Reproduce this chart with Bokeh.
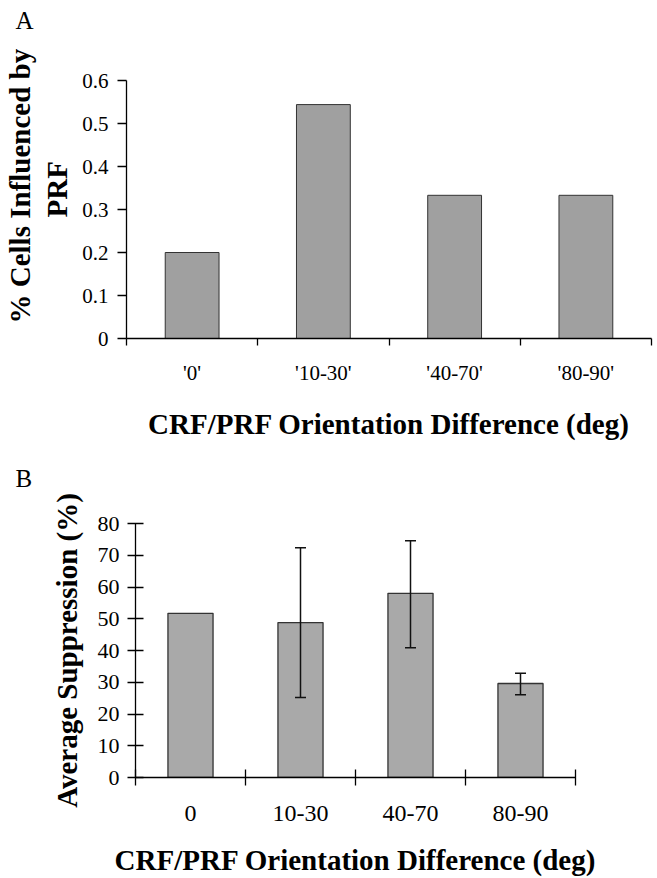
from bokeh.plotting import figure
from bokeh.models import Range1d, FixedTicker, Whisker, ColumnDataSource, TeeHead, Title, Spacer
from bokeh.layouts import column, row
from bokeh.embed import file_html
from bokeh.resources import INLINE

# ---------------- data ----------------
a_categories = ["'0'", "'10-30'", "'40-70'", "'80-90'"]
a_values = [0.20, 0.544, 0.333, 0.333]
a_yticks = [0, 0.1, 0.2, 0.3, 0.4, 0.5, 0.6]
a_ytick_labels = ["0", "0.1", "0.2", "0.3", "0.4", "0.5", "0.6"]

b_categories = ["0", "10-30", "40-70", "80-90"]
b_values = [51.7, 48.8, 58.0, 29.6]
b_err_lower = [51.7, 25.2, 40.9, 26.1]
b_err_upper = [51.7, 72.4, 74.6, 32.8]
b_yticks = [0, 10, 20, 30, 40, 50, 60, 70, 80]
b_ytick_labels = ["0", "10", "20", "30", "40", "50", "60", "70", "80"]

x_title = "CRF/PRF Orientation Difference (deg)"
a_ytitle = ["% Cells Influenced by", "PRF"]
b_ytitle = "Average Suppression (%)"
panel_letters = ["A", "B"]

FONT = "Liberation Serif"
TITLE_SIZE = "29px"


def style_axes(p, yticks, ylabels, ylab_size, xlab_size, y_in, y_out, x_in, x_out, ystand, xstand):
    p.grid.visible = False
    p.outline_line_color = None
    p.background_fill_color = "white"
    p.border_fill_color = "white"
    p.xaxis.ticker = FixedTicker(ticks=[0, 1, 2, 3], minor_ticks=[-0.5, 0.5, 1.5, 2.5, 3.5])
    p.xaxis.major_tick_in = 0
    p.xaxis.major_tick_out = 0
    p.xaxis.minor_tick_in = x_in
    p.xaxis.minor_tick_out = x_out
    p.xaxis.minor_tick_line_color = "black"
    p.xaxis.minor_tick_line_width = 1.3
    p.yaxis.ticker = FixedTicker(ticks=yticks, minor_ticks=[])
    p.yaxis.major_label_overrides = {t: l for t, l in zip(yticks, ylabels)}
    p.yaxis.major_tick_in = y_in
    p.yaxis.major_tick_out = y_out
    p.yaxis.major_tick_line_width = 1.3
    p.yaxis.major_label_standoff = ystand
    p.xaxis.major_label_standoff = xstand
    for ax in (p.xaxis, p.yaxis):
        ax.axis_line_color = "black"
        ax.axis_line_width = 1.3
        ax.major_tick_line_color = "black"
        ax.major_label_text_font = FONT
        ax.major_label_text_color = "black"
        ax.axis_label_text_font = FONT
        ax.axis_label_text_font_style = "bold"
        ax.axis_label_text_font_size = TITLE_SIZE
        ax.axis_label_text_color = "black"
    p.yaxis.major_label_text_font_size = ylab_size
    p.xaxis.major_label_text_font_size = xlab_size


def side_title(text, **kw):
    return Title(text=text, text_font=FONT, text_color="black", **kw)


# ---------------- panel A ----------------
p1 = figure(frame_width=525, frame_height=258,
            min_border_left=126, min_border_right=2, min_border_top=80, min_border_bottom=104,
            x_range=Range1d(-0.5, 3.5), y_range=Range1d(0, 0.6),
            output_backend="svg", toolbar_location=None)
xa = list(range(len(a_categories)))
p1.vbar(x=xa, top=a_values, width=0.41, bottom=0, fill_color="#a0a0a0", line_color="#333333", line_width=1)

style_axes(p1, a_yticks, a_ytick_labels, "21px", "21px", 0, 9, 0, 7, 9, 15)
p1.xaxis.major_label_overrides = {i: c for i, c in enumerate(a_categories)}
p1.xaxis.axis_label = x_title
p1.xaxis.axis_label_standoff = 20

# two-line y title as side titles (nearest the axis first)
p1.add_layout(side_title(a_ytitle[1], align="left", offset=121, vertical_align="top", standoff=10,
                         text_font_size=TITLE_SIZE, text_font_style="bold"), "left")
p1.add_layout(side_title(a_ytitle[0], align="left", offset=15, vertical_align="bottom", standoff=0,
                         text_font_size=TITLE_SIZE, text_font_style="bold"), "left")
# spacer (blank) then panel letter above the frame
p1.add_layout(side_title(" ", align="left", offset=0, vertical_align="bottom", standoff=29,
                         text_font_size="10px"), "above")
p1.add_layout(side_title(panel_letters[0], align="left", offset=-111, vertical_align="top", standoff=6,
                         text_font_size="25px", text_font_style="normal"), "above")

# ---------------- panel B ----------------
p2 = figure(frame_width=440, frame_height=254,
            min_border_left=126, min_border_right=74, min_border_top=81, min_border_bottom=100,
            x_range=Range1d(-0.5, 3.5), y_range=Range1d(0, 80),
            output_backend="svg", toolbar_location=None)
xb = list(range(len(b_categories)))
p2.vbar(x=xb, top=b_values, width=0.41, bottom=0, fill_color="#a9a9a9", line_color="#333333", line_width=1.3)

idx = [i for i in xb if b_err_upper[i] != b_err_lower[i]]
err_src = ColumnDataSource(data=dict(x=[xb[i] for i in idx],
                                     lower=[b_err_lower[i] for i in idx],
                                     upper=[b_err_upper[i] for i in idx]))
p2.add_layout(Whisker(source=err_src, base="x", lower="lower", upper="upper", level="annotation",
                      line_color="#111111", line_width=1.5,
                      upper_head=TeeHead(size=11, line_color="#111111", line_width=1.5),
                      lower_head=TeeHead(size=11, line_color="#111111", line_width=1.5)))

style_axes(p2, b_yticks, b_ytick_labels, "22px", "24px", 8, 8, 8, 8, 8, 20)
p2.xaxis.major_label_overrides = {i: c for i, c in enumerate(b_categories)}
p2.xaxis.axis_label = x_title
p2.xaxis.axis_label_standoff = 20
p2.yaxis.axis_label = b_ytitle
p2.yaxis.axis_label_standoff = 12
p2.add_layout(side_title(" ", align="left", offset=0, vertical_align="bottom", standoff=3,
                         text_font_size="5px"), "above")
p2.add_layout(side_title(panel_letters[1], align="left", offset=-120, vertical_align="top", standoff=40,
                         text_font_size="25px", text_font_style="normal"), "above")

layout = column(p1, row(Spacer(width=9, height=10), p2, spacing=0), spacing=0)
open("out.html", "w").write(file_html(layout, INLINE))
